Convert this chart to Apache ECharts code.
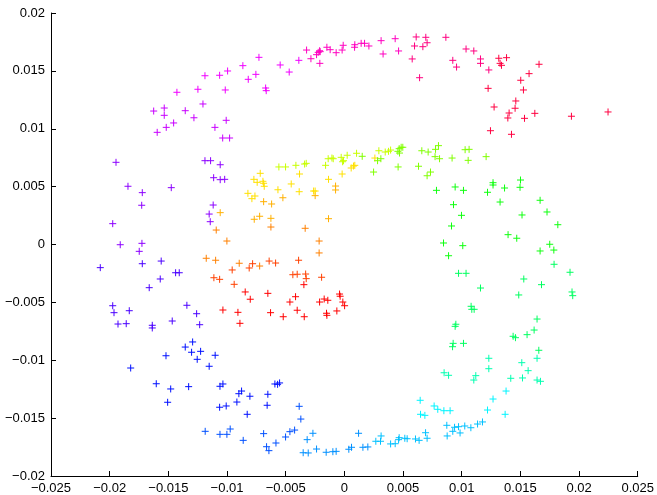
<!DOCTYPE html>
<html>
<head>
<meta charset="utf-8">
<script src="https://cdn.jsdelivr.net/npm/echarts@6/dist/echarts.min.js"></script>
<style>html,body{margin:0;padding:0;background:#fff;}#c{width:657px;height:495px;}</style>
</head>
<body>
<div id="c"></div>
<script>
// Axis ranges / ticks
const xMin = -0.025, xMax = 0.025, xStep = 0.005;
const yMin = -0.02, yMax = 0.02, yStep = 0.005;

// Point groups along the spiral (inner red end -> outer red end)
const red = [[-0.00652,-0.00422],[-0.00416,-0.00451],[-0.00464,-0.00497],[-0.00211,-0.00497],[-0.00172,-0.00471],[-0.00141,-0.00482],[-0.00041,-0.00428],[-0.00036,-0.00447],[-0.00013,-0.00497],[0.00002,-0.00529],[-0.00064,-0.00574],[-0.00402,-0.00568],[-0.00629,-0.00589],[-0.00152,-0.00594],[-0.00521,-0.00624],[-0.00342,-0.00624],[-0.00149,-0.00612],[-0.01035,-0.00566],[-0.00907,-0.00586],[-0.00890,-0.00681],[-0.00802,-0.00473],[-0.00845,-0.00410],[-0.00345,-0.00347]];
const orangeRed = [[-0.00641,-0.00143],[-0.00586,-0.00160],[-0.00390,-0.00136],[-0.00439,-0.00261],[-0.00402,-0.00257],[-0.00330,-0.00255],[-0.00325,-0.00295],[-0.00194,-0.00283],[-0.00782,-0.00166],[-0.00811,-0.00203],[-0.01112,-0.00287],[-0.01063,-0.00301],[-0.00939,-0.00344],[-0.00956,-0.00220]];
const orange = [[-0.01177,-0.00119],[-0.01097,-0.00136],[-0.00896,-0.00162],[-0.00722,-0.00186],[-0.00215,-0.00073],[-0.00215,0.00030],[-0.00334,0.00140],[-0.00626,0.00151],[-0.01001,0.00030],[-0.01092,0.00125]];
const orangeYellow = [[-0.00626,0.00226],[-0.00135,0.00223],[-0.01058,0.00275],[-0.00768,0.00218],[-0.00722,0.00244],[-0.00620,0.00350],[-0.00524,0.00404],[-0.00075,0.00505],[-0.00075,0.00471],[-0.00249,0.00422],[-0.00688,0.00370]];
const yellow = [[-0.00566,0.00473],[-0.00385,0.00456],[-0.00262,0.00462],[-0.00249,0.00462],[-0.00453,0.00523],[-0.00135,0.00563],[-0.00822,0.00442],[-0.00788,0.00396],[-0.00762,0.00419],[-0.00771,0.00563],[-0.00743,0.00537],[-0.00694,0.00546],[-0.00688,0.00529],[-0.00683,0.00503],[-0.00717,0.00615],[-0.00382,0.00609],[-0.00019,0.00609],[0.00058,0.00661],[0.00078,0.00678],[0.00089,0.00684],[0.00260,0.00747]];
const yellowGreen = [[-0.00558,0.00670],[-0.00501,0.00670],[-0.00413,0.00684],[-0.00339,0.00695],[-0.00325,0.00701],[-0.00160,0.00684],[-0.00138,0.00741],[-0.00106,0.00747],[-0.00095,0.00741],[-0.00027,0.00753],[-0.00015,0.00715],[-0.00007,0.00724],[0.00024,0.00771],[0.00104,0.00788],[0.00294,0.00810],[0.00348,0.00799],[0.00376,0.00805],[0.00394,0.00816]];
const greenYellow = [[0.00152,0.00762],[0.00249,0.00626],[0.00283,0.00724],[0.00311,0.00741],[0.00456,0.00805],[0.00467,0.00828],[0.00470,0.00790],[0.00484,0.00840],[0.00498,0.00840],[0.00458,0.00670],[0.00632,0.00676],[0.00660,0.00810],[0.00714,0.00799],[0.00734,0.00626],[0.00705,0.00594],[0.00777,0.00822],[0.00802,0.00854],[0.00773,0.00759],[0.00811,0.00741],[0.01029,0.00819],[0.01063,0.00822],[0.00918,0.00747],[0.01055,0.00727],[0.01208,0.00759]];
const green = [[0.00785,0.00468],[0.00845,0.00013],[0.00944,0.00497],[0.01015,0.00468],[0.01267,0.00534],[0.01267,0.00514],[0.01220,0.00451],[0.01365,0.00488],[0.01501,0.00557],[0.01497,0.00494],[0.01327,0.00367],[0.00930,0.00344],[0.00998,0.00252],[0.01514,0.00255],[0.01668,0.00382],[0.01727,0.00281],[0.01819,0.00171],[0.00913,0.00160],[0.01009,-0.00010],[0.00888,-0.00097],[0.01395,0.00085],[0.01469,0.00054],[0.01750,0.00002],[0.01785,-0.00048],[0.01668,-0.00056]];
const spring = [[0.01787,-0.00171],[0.01923,-0.00240],[0.00973,-0.00249],[0.01037,-0.00249],[0.01529,-0.00298],[0.01160,-0.00376],[0.01680,-0.00347],[0.01486,-0.00436],[0.01940,-0.00410],[0.01946,-0.00442],[0.01080,-0.00534],[0.01086,-0.00560],[0.01106,-0.00560],[0.00950,-0.00689],[0.00944,-0.00707],[0.00927,-0.00854],[0.00922,-0.00883],[0.01015,-0.00854],[0.01642,-0.00644],[0.01617,-0.00739],[0.01557,-0.00779],[0.01438,-0.00793],[0.01458,-0.00805],[0.01657,-0.00914]];
const aqua = [[0.01642,-0.00983],[0.01231,-0.00983],[0.01231,-0.01073],[0.01512,-0.01021],[0.01566,-0.01090],[0.01518,-0.01153],[0.01642,-0.01171],[0.01671,-0.01182],[0.01418,-0.01156],[0.00850,-0.01108],[0.00888,-0.01130],[0.01120,-0.01133],[0.01103,-0.01171]];
const cyan = [[0.01378,-0.01266],[0.01267,-0.01335],[0.01220,-0.01430],[0.01370,-0.01467],[0.00848,-0.01436],[0.00901,-0.01436],[0.00646,-0.01346],[0.00649,-0.01467],[0.00686,-0.01476],[0.00765,-0.01395],[0.00796,-0.01424]];
const sky = [[0.00873,-0.01562],[0.00939,-0.01579],[0.00973,-0.01574],[0.01026,-0.01568],[0.01078,-0.01583],[0.01135,-0.01551],[0.01177,-0.01533],[0.00924,-0.01614],[0.00986,-0.01628],[0.00876,-0.01654],[0.00692,-0.01626],[0.00705,-0.01674],[0.00606,-0.01680],[0.00637,-0.01692],[0.00515,-0.01674],[0.00535,-0.01678],[0.00462,-0.01686],[0.00467,-0.01669],[0.00394,-0.01723],[0.00433,-0.01721],[0.00313,-0.01654],[0.00268,-0.01700],[0.00308,-0.01700]];
const azure = [[0.00121,-0.01631],[0.00158,-0.01752],[0.00200,-0.01749],[0.00038,-0.01769],[0.00061,-0.01752],[-0.00155,-0.01795],[-0.00098,-0.01790],[-0.00070,-0.01787],[-0.00237,-0.01767],[-0.00351,-0.01799],[-0.00308,-0.01801],[-0.00317,-0.01686],[-0.00268,-0.01631]];
const blue = [[-0.00424,-0.01603],[-0.00464,-0.01617],[-0.00501,-0.01663],[-0.00583,-0.01715],[-0.00663,-0.01747],[-0.00643,-0.01781],[-0.00371,-0.01508],[-0.00385,-0.01398],[-0.00688,-0.01634],[-0.00862,-0.01692],[-0.00973,-0.01594],[-0.01001,-0.01640],[-0.01060,-0.01640],[-0.01186,-0.01614]];
const deepBlue = [[-0.00592,-0.01205],[-0.00569,-0.01208],[-0.00552,-0.01196],[-0.00652,-0.01294],[-0.00658,-0.01389],[-0.00828,-0.01467],[-0.00805,-0.01311],[-0.00899,-0.01289],[-0.00876,-0.01266],[-0.00916,-0.01361],[-0.01063,-0.01406],[-0.01007,-0.01395],[-0.01060,-0.01225],[-0.01035,-0.01205],[-0.01327,-0.01228],[-0.01480,-0.01248],[-0.01603,-0.01203],[-0.01506,-0.01363],[-0.01356,-0.00886],[-0.01293,-0.00842],[-0.01302,-0.00931],[-0.01225,-0.00923],[-0.01254,-0.00992],[-0.01101,-0.00957],[-0.01152,-0.01052],[-0.01520,-0.00961],[-0.01821,-0.01067]];
const violet = [[-0.01963,-0.00589],[-0.01833,-0.00572],[-0.01929,-0.00687],[-0.01859,-0.00684],[-0.01637,-0.00698],[-0.01637,-0.00721],[-0.01467,-0.00661],[-0.01259,-0.00598],[-0.01233,-0.00693],[-0.01974,-0.00529],[-0.01342,-0.00525],[-0.01663,-0.00373],[-0.01569,-0.00298],[-0.01438,-0.00244],[-0.01407,-0.00244],[-0.02080,-0.00200],[-0.01722,-0.00166],[-0.01561,-0.00143]];
const purple = [[-0.01910,-0.00002],[-0.01725,0.00010],[-0.01748,-0.00059],[-0.01974,0.00180],[-0.01727,0.00339],[-0.01844,0.00503],[-0.01722,0.00448],[-0.01475,0.00491],[-0.01114,0.00577],[-0.01058,0.00560],[-0.01020,0.00563],[-0.01118,0.00341],[-0.01152,0.00263],[-0.01143,0.00197],[-0.01946,0.00710],[-0.01188,0.00724],[-0.01140,0.00724],[-0.01058,0.00689]];
const magentaPurple = [[-0.01625,0.01153],[-0.01535,0.01179],[-0.01535,0.01116],[-0.01356,0.01156],[-0.01282,0.01095],[-0.01455,0.01050],[-0.01518,0.01012],[-0.01595,0.00969],[-0.01007,0.01073],[-0.01103,0.01012],[-0.01037,0.00920],[-0.00978,0.00920],[-0.01205,0.01214]];
const magenta = [[-0.01427,0.01315],[-0.01248,0.01341],[-0.01015,0.01335],[-0.01188,0.01458],[-0.01063,0.01462],[-0.00995,0.01499],[-0.00865,0.01545],[-0.00819,0.01427],[-0.00754,0.01470],[-0.00728,0.01617],[-0.00671,0.01352],[-0.00666,0.01329],[-0.00547,0.01551],[-0.00470,0.01490],[-0.00388,0.01591]];
const pink = [[-0.00322,0.01680],[-0.00285,0.01605],[-0.00237,0.01640],[-0.00223,0.01660],[-0.00211,0.01674],[-0.00206,0.01666],[-0.00209,0.01565],[-0.00149,0.01704],[-0.00121,0.01683],[-0.00070,0.01657],[-0.00019,0.01680],[-0.00010,0.01721],[0.00087,0.01704],[0.00089,0.01726],[0.00143,0.01738],[0.00172,0.01738],[0.00209,0.01715],[0.00313,0.01761],[0.00330,0.01646],[0.00433,0.01778],[0.00462,0.01672]];
const rose = [[0.00578,0.01603],[0.00598,0.01715],[0.00612,0.01793],[0.00669,0.01709],[0.00694,0.01790],[0.00705,0.01743],[0.00641,0.01441],[0.00865,0.01790],[0.01037,0.01689],[0.01103,0.01672],[0.00924,0.01591],[0.00956,0.01533],[0.01160,0.01603],[0.01160,0.01565],[0.01231,0.01508]];
const redRose = [[0.01316,0.01609],[0.01382,0.01614],[0.01327,0.01565],[0.01339,0.01548],[0.01659,0.01557],[0.01574,0.01476],[0.01503,0.01419],[0.01526,0.01335],[0.01225,0.01349],[0.01461,0.01240],[0.01276,0.01188],[0.01455,0.01177],[0.01404,0.01136],[0.01393,0.01093],[0.01535,0.01090],[0.01623,0.01133],[0.01935,0.01108],[0.02247,0.01145],[0.01245,0.00983],[0.01424,0.00952]];

const groups = [
  [red, '#ff0000'], [orangeRed, '#ff4000'], [orange, '#ff8000'], [orangeYellow, '#ffb000'],
  [yellow, '#ffe000'], [yellowGreen, '#c8ff00'], [greenYellow, '#80ff00'], [green, '#10ff10'],
  [spring, '#00ff60'], [aqua, '#00ffb0'], [cyan, '#00f4ff'], [sky, '#00c0ff'],
  [azure, '#0090ff'], [blue, '#0050ff'], [deepBlue, '#0010ff'], [violet, '#4a00ff'],
  [purple, '#8c00ff'], [magentaPurple, '#c800ff'], [magenta, '#f000ff'], [pink, '#ff00c0'],
  [rose, '#ff0080'], [redRose, '#ff0040']
];

function fmt(v) {
  const s = String(+v.toFixed(4));
  return s.replace('-', '\u2212');
}

const chart = echarts.init(document.getElementById('c'), null, {renderer: 'canvas'});
chart.setOption({
  animation: false,
  backgroundColor: '#fff',
  grid: {left: 51, right: 19, top: 13, bottom: 19, containLabel: false},
  xAxis: {
    type: 'value', min: xMin, max: xMax, interval: xStep,
    axisLine: {show: true, onZero: false, lineStyle: {color: '#000', width: 1}},
    axisTick: {show: true, inside: true, length: 5, lineStyle: {color: '#000'}},
    splitLine: {show: false},
    axisLabel: {formatter: fmt, color: '#000', fontSize: 13, fontFamily: 'Liberation Sans, Arial, sans-serif', margin: 6}
  },
  yAxis: {
    type: 'value', min: yMin, max: yMax, interval: yStep,
    axisLine: {show: true, onZero: false, lineStyle: {color: '#000', width: 1}},
    axisTick: {show: true, inside: true, length: 5, lineStyle: {color: '#000'}},
    splitLine: {show: false},
    axisLabel: {formatter: fmt, color: '#000', fontSize: 13, fontFamily: 'Liberation Sans, Arial, sans-serif', margin: 6}
  },
  series: groups.map(([pts, col]) => ({
    type: 'scatter',
    data: pts,
    symbol: 'path://M0,-1L0,1M-1,0L1,0',
    symbolSize: 7,
    itemStyle: {color: 'rgba(0,0,0,0)', borderColor: col, borderWidth: 1, opacity: 1},
    emphasis: {disabled: true},
    silent: true
  }))
});
</script>
</body>
</html>
